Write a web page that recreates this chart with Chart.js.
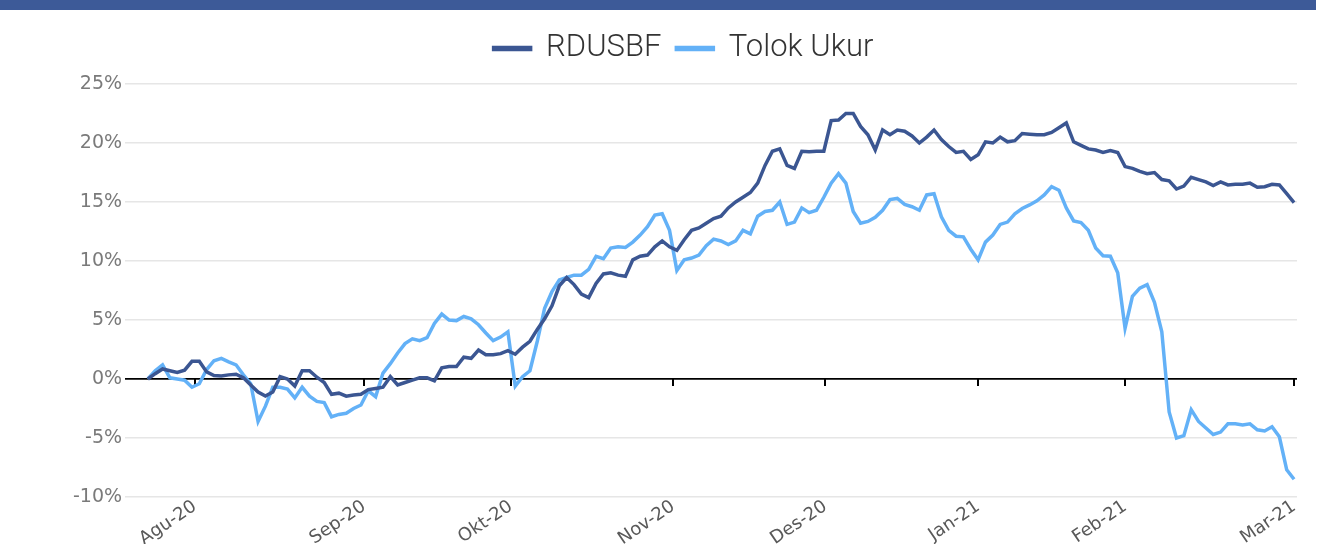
<!DOCTYPE html>
<html>
<head>
<meta charset="utf-8">
<script src="https://cdn.jsdelivr.net/npm/chart.js@4/dist/chart.umd.min.js"></script>
<style>
  html, body { margin: 0; padding: 0; background: #fff; }
  #wrap { position: relative; width: 1322px; height: 544px; }
  #band { position: absolute; left: 0; top: 0; width: 1316px; height: 10px; background: #3d5a98; }
</style>
</head>
<body>
<div id="wrap">
  <canvas id="canvas" width="1322" height="544"></canvas>
  <div id="band"></div>
</div>
<script>
// month ticks (position in trading-day index) and their labels
const tickPos = [6.4, 29.45, 49.4, 71.5, 92.2, 113, 133, 156];
const tickLabels = ["Agu-20", "Sep-20", "Okt-20", "Nov-20", "Des-20", "Jan-21", "Feb-21", "Mar-21"];

// cumulative return, % (one value per trading day)
const rdusbf = [
  0, 0.45, 0.85, 0.7, 0.55, 0.75, 1.5, 1.5, 0.6, 0.3,
  0.25, 0.35, 0.4, 0.1, -0.5, -1.1, -1.45, -1.1, 0.2, 0.0,
  -0.6, 0.7, 0.7, 0.15, -0.3, -1.3, -1.2, -1.45, -1.35, -1.3,
  -0.9, -0.8, -0.7, 0.2, -0.5, -0.3, -0.1, 0.1, 0.1, -0.15,
  0.95, 1.05, 1.05, 1.85, 1.75, 2.45, 2.05, 2.05, 2.15, 2.4,
  2.1, 2.7, 3.2, 4.2, 5.1, 6.2, 7.9, 8.6, 8.0, 7.2,
  6.9, 8.1, 8.9, 9.0, 8.8, 8.7, 10.1, 10.4, 10.5, 11.2,
  11.7, 11.2, 10.9, 11.8, 12.6, 12.8, 13.2, 13.6, 13.8, 14.5,
  15.0, 15.4, 15.8, 16.6, 18.1, 19.3, 19.5, 18.1, 17.85, 19.3,
  19.25, 19.3, 19.3, 21.9, 21.95, 22.5, 22.5, 21.4, 20.7, 19.4,
  21.1, 20.7, 21.1, 21.0, 20.6, 20.0, 20.5, 21.1, 20.3, 19.7,
  19.2, 19.3, 18.6, 19.0, 20.1, 20.0, 20.5, 20.1, 20.2, 20.8,
  20.75, 20.7, 20.7, 20.9, 21.3, 21.7, 20.1, 19.8, 19.5, 19.4,
  19.2, 19.35, 19.2, 18.0, 17.85, 17.6, 17.4, 17.5, 16.9, 16.8,
  16.1, 16.35, 17.1, 16.9, 16.7, 16.4, 16.7, 16.45, 16.5, 16.5,
  16.6, 16.25, 16.3, 16.5, 16.45, 15.7, 14.95
];
const tolokUkur = [
  0, 0.7, 1.2, 0.1, 0.0, -0.1, -0.7, -0.4, 0.8, 1.55,
  1.75, 1.45, 1.2, 0.35, -0.4, -3.6, -2.3, -0.7, -0.7, -0.85,
  -1.6, -0.7, -1.45, -1.9, -2.0, -3.2, -3.0, -2.9, -2.5, -2.2,
  -1.0, -1.5, 0.5, 1.3, 2.2, 3.0, 3.4, 3.25, 3.5, 4.7,
  5.5, 5.0, 4.95, 5.3, 5.1, 4.6, 3.9, 3.25, 3.55, 4.0,
  -0.6, 0.2, 0.7, 3.2, 6.0, 7.4, 8.4, 8.6, 8.8, 8.8,
  9.3, 10.4, 10.2, 11.1, 11.2, 11.15, 11.6, 12.2, 12.9, 13.9,
  14.0, 12.6, 9.2, 10.1, 10.25, 10.5, 11.3, 11.85, 11.7, 11.4,
  11.7, 12.6, 12.3, 13.8, 14.2, 14.3, 15.0, 13.1, 13.3, 14.5,
  14.1, 14.3, 15.4, 16.6, 17.4, 16.6, 14.2, 13.2, 13.35, 13.7,
  14.3, 15.2, 15.3, 14.8, 14.6, 14.3, 15.6, 15.7, 13.75, 12.6,
  12.1, 12.05, 11.0, 10.1, 11.6, 12.2, 13.1, 13.3, 14.0, 14.45,
  14.75, 15.1, 15.6, 16.3, 16.0, 14.5, 13.4, 13.25, 12.6, 11.1,
  10.45, 10.4, 9.0, 4.3, 7.0, 7.7, 8.0, 6.5, 4.0, -2.8,
  -5.0, -4.8, -2.6, -3.6, -4.15, -4.7, -4.5, -3.8, -3.8, -3.9,
  -3.8, -4.3, -4.4, -4.05, -4.9, -7.7, -8.5
];

const toPoints = arr => arr.map((v, i) => ({ x: i, y: v }));
const setMonthTicks = scale => { scale.ticks = tickPos.map(v => ({ value: v })); };

// give the legend a fixed block height so the plot starts lower
const legendHeight = {
  id: "legendHeight",
  beforeLayout(chart) {
    const lg = chart.legend;
    if (!lg || lg._patched) return;
    const fit = lg.fit;
    lg.fit = function () { fit.call(this); this.height = 66; };
    lg._patched = true;
  },
};

const ctx = document.getElementById("canvas").getContext("2d");

new Chart(ctx, {
  type: "line",
  data: {
    datasets: [
      {
        label: "RDUSBF",
        data: toPoints(rdusbf),
        borderColor: "#3b5692",
        backgroundColor: "#3b5692",
        borderWidth: 3.5,
        pointRadius: 0,
        tension: 0,
      },
      {
        label: "Tolok Ukur",
        data: toPoints(tolokUkur),
        borderColor: "#63b1f7",
        backgroundColor: "#63b1f7",
        borderWidth: 3.5,
        pointRadius: 0,
        tension: 0,
      },
    ],
  },
  plugins: [legendHeight],
  options: {
    responsive: false,
    animation: false,
    layout: { padding: { top: 18, left: 70, right: 25, bottom: 0 } },
    scales: {
      x: {
        type: "linear",
        min: -3.1,
        max: 156.4,
        afterBuildTicks: setMonthTicks,
        afterFit: s => { s.height = 47; },
        grid: { display: false },
        border: { display: false },
        ticks: {
          autoSkip: false,
          minRotation: 34,
          maxRotation: 34,
          padding: -9,
          color: "#595959",
          font: { family: "DejaVu Sans", size: 18 },
          callback: (v, i) => tickLabels[i],
        },
      },
      x2: {
        type: "linear",
        position: { y: 0 },
        min: -3.1,
        max: 156.4,
        afterBuildTicks: setMonthTicks,
        grid: { drawOnChartArea: false, drawTicks: true, tickLength: 7, color: "#000", lineWidth: 2 },
        border: { display: false },
        ticks: { display: false },
      },
      y: {
        min: -10,
        max: 25,
        ticks: {
          stepSize: 5,
          padding: 3,
          color: "#7a7a7a",
          font: { family: "DejaVu Sans", size: 19 },
          callback: v => v + "%",
        },
        grid: {
          drawTicks: false,
          color: c => (c.tick.value === 0 ? "#000" : "#e6e6e6"),
          lineWidth: c => (c.tick.value === 0 ? 1.8 : 1.5),
        },
        border: { display: false },
      },
    },
    plugins: {
      legend: {
        display: true,
        labels: {
          boxWidth: 37,
          boxHeight: 2,
          padding: 15,
          color: "#333",
          font: { family: "Roboto", size: 31, weight: "300" },
        },
      },
      tooltip: { enabled: false },
    },
  },
});
</script>
</body>
</html>
